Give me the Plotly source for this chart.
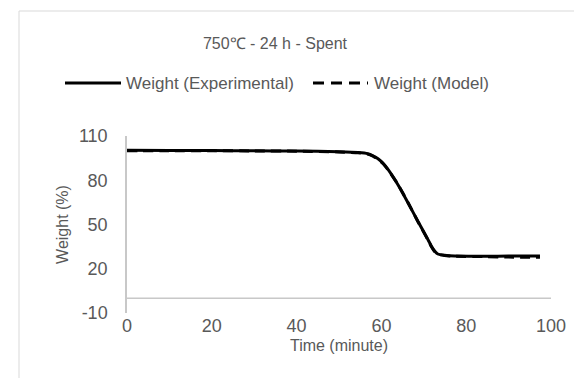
import plotly.graph_objects as go

# ---- data ----
exp_time = [0, 10, 20, 30, 40, 50, 54.5, 56.8, 58.0, 59.2, 60.4, 61.6, 63.9, 66.3, 68.6, 71.0, 71.8, 72.6, 73.3, 74.9, 77.3, 85, 90, 97.4]
exp_weight = [100.3, 100.2, 100.1, 100.0, 99.8, 99.3, 98.8, 98.0, 96.6, 94.6, 91.5, 87.2, 77.0, 64.6, 52.2, 39.7, 35.2, 31.8, 30.0, 29.1, 28.6, 28.5, 28.6, 28.6]
model_time = [0, 10, 20, 30, 40, 50, 54.5, 56.8, 58.0, 59.2, 60.4, 61.6, 63.9, 66.3, 68.6, 71.0, 71.8, 72.6, 73.3, 74.9, 77.3, 85, 90, 97.4]
model_weight = [100.0, 100.0, 100.0, 99.9, 99.7, 99.2, 98.6, 97.7, 96.3, 94.2, 91.2, 87.0, 77.2, 64.8, 52.0, 39.5, 35.0, 31.5, 29.8, 29.0, 28.5, 28.2, 27.9, 27.8]
y_ticks = [110, 80, 50, 20, -10]
y_tick_labels = ["110", "80", "50", "20", "-10"]
x_ticks = [0, 20, 40, 60, 80, 100]
title_text = "750℃ - 24 h - Spent"
names = ["Weight (Experimental)", "Weight (Model)"]

W, H = 582, 378
L, R, T, B = 119, 39, 128, 73
PW, PH = W - L - R, H - T - B
FONT = "Liberation Sans, Arial, sans-serif"
GRAY_TXT = "#595959"
AXIS = "#c8c8c8"


def px(xp):
    return (xp - L) / PW


def py(yp):
    return (H - B - yp) / PH


fig = go.Figure()
fig.add_trace(go.Scatter(x=model_time, y=model_weight, mode="lines", name=names[1],
                         line=dict(color="black", width=3, dash="10px,6px", shape="spline", smoothing=0.5)))
fig.add_trace(go.Scatter(x=exp_time, y=exp_weight, mode="lines", name=names[0],
                         line=dict(color="black", width=3, shape="spline", smoothing=0.5)))

shapes = [
    # chart border
    dict(type="rect", xref="paper", yref="paper", x0=px(11), x1=px(620), y0=py(3), y1=py(420),
         line=dict(color="#d9d9d9", width=1), fillcolor="rgba(0,0,0,0)", layer="below"),
    # x axis line at y = 0
    dict(type="line", xref="x", yref="y", x0=0, x1=100, y0=0, y1=0,
         line=dict(color=AXIS, width=1.5)),
    # legend samples
    dict(type="line", xref="paper", yref="paper", x0=px(57), x1=px(113), y0=py(75), y1=py(75),
         line=dict(color="black", width=3)),
    dict(type="line", xref="paper", yref="paper", x0=px(305), x1=px(360), y0=py(75), y1=py(75),
         line=dict(color="black", width=3, dash="11px,7px")),
]

annotations = [
    dict(text=names[0], xref="paper", yref="paper", x=px(116), y=py(75), xanchor="left", yanchor="middle",
         showarrow=False, font=dict(family=FONT, size=17, color=GRAY_TXT)),
    dict(text=names[1], xref="paper", yref="paper", x=px(364), y=py(75), xanchor="left", yanchor="middle",
         showarrow=False, font=dict(family=FONT, size=17, color=GRAY_TXT)),
]

fig.update_layout(
    width=W, height=H,
    margin=dict(l=L, r=R, t=T, b=B),
    paper_bgcolor="white", plot_bgcolor="white",
    showlegend=False,
    font=dict(family=FONT, size=17, color=GRAY_TXT),
    title=dict(text=title_text, x=px(267), xref="paper", xanchor="center",
               y=1 - 35 / H, yref="container", yanchor="middle",
               font=dict(family=FONT, size=16, color=GRAY_TXT)),
    shapes=shapes,
    annotations=annotations,
    xaxis=dict(range=[0, 100], tickvals=x_ticks, showgrid=False, zeroline=False, showline=False,
               ticks="", tickfont=dict(size=18, color=GRAY_TXT),
               title=dict(text="Time (minute)", font=dict(size=16, color=GRAY_TXT), standoff=4)),
    yaxis=dict(range=[-10, 110], tickvals=y_ticks, ticktext=y_tick_labels, showgrid=False,
               zeroline=False, showline=True,
               linecolor=AXIS, linewidth=1.5, ticks="", ticklabelstandoff=14,
               tickfont=dict(size=18, color=GRAY_TXT),
               title=dict(text="Weight (%)", font=dict(size=16, color=GRAY_TXT), standoff=6)),
)

fig.write_html("out.html")
